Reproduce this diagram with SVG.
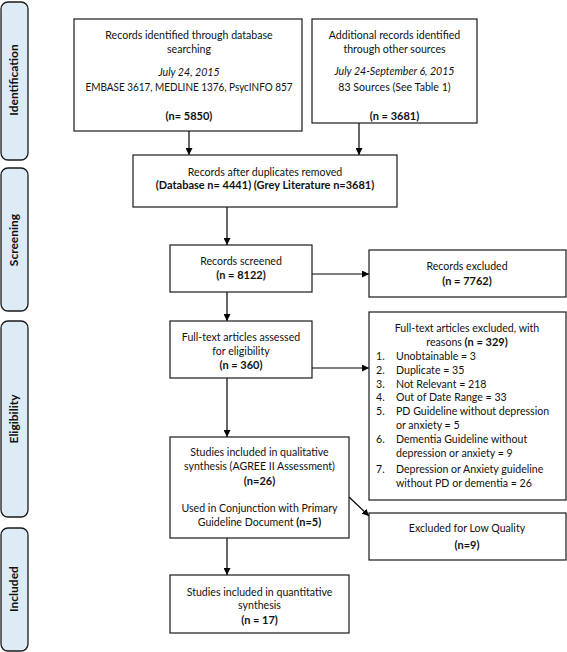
<svg xmlns="http://www.w3.org/2000/svg" width="567" height="652" viewBox="0 0 567 652">
<defs>
<marker id="ah" viewBox="0 0 10 10" refX="10" refY="5" markerWidth="7" markerHeight="7" orient="auto" markerUnits="userSpaceOnUse">
<path d="M0,0 L10,5 L0,10 z" fill="#000"/>
</marker>
</defs>
<style>
.box{fill:#fff;stroke:#1a1a1a;stroke-width:1.2}
.side{fill:#dcebf6;stroke:#1a1a1a;stroke-width:1.3}
.t{font-family:Lato,"Liberation Sans",sans-serif;font-size:10.6px;fill:#111;text-anchor:middle}
.l{text-anchor:start}
.b{font-weight:bold;font-size:11px}
.i{font-style:italic}
.st{font-family:Lato,"Liberation Sans",sans-serif;font-size:12px;font-weight:bold;fill:#111;text-anchor:middle}
.c{stroke:#000;stroke-width:1.2;fill:none;marker-end:url(#ah)}
</style>

<g id="stage-identification">
<rect class="side" x="1" y="2" width="27" height="158" rx="7"/>
<text class="st" transform="translate(18,80) rotate(-90)">Identification</text>
</g>
<g id="stage-screening">
<rect class="side" x="1" y="168" width="27" height="143" rx="7"/>
<text class="st" transform="translate(18,240) rotate(-90)">Screening</text>
</g>
<g id="stage-eligibility">
<rect class="side" x="1" y="321" width="27" height="196" rx="7"/>
<text class="st" transform="translate(18,419) rotate(-90)">Eligibility</text>
</g>
<g id="stage-included">
<rect class="side" x="1" y="528" width="27" height="123" rx="7"/>
<text class="st" transform="translate(18,589) rotate(-90)">Included</text>
</g>

<g id="connectors">
<line class="c" x1="189" y1="131" x2="189" y2="155"/>
<line class="c" x1="359" y1="123" x2="359" y2="155"/>
<line class="c" x1="227" y1="207" x2="227" y2="245"/>
<line class="c" x1="312" y1="274" x2="369" y2="274"/>
<line class="c" x1="227" y1="292" x2="227" y2="321"/>
<line class="c" x1="312" y1="368" x2="369" y2="368"/>
<line class="c" x1="227" y1="378" x2="227" y2="437"/>
<line class="c" x1="349" y1="497" x2="369" y2="516"/>
<line class="c" x1="227" y1="538" x2="227" y2="575"/>
</g>

<g id="db-search">
<rect class="box" x="74" y="19" width="228" height="112"/>
<text class="t" x="189" y="39">Records identified through database</text>
<text class="t" x="189" y="53">searching</text>
<text class="t i" x="189" y="76">July 24, 2015</text>
<text class="t" x="189" y="91" textLength="207" lengthAdjust="spacingAndGlyphs">EMBASE 3617, MEDLINE 1376, PsycINFO 857</text>
<text class="t b" x="189" y="120">(n= 5850)</text>
</g>

<g id="other-sources">
<rect class="box" x="312" y="19" width="165" height="104"/>
<text class="t" x="394.5" y="39">Additional records identified</text>
<text class="t" x="394.5" y="53">through other sources</text>
<text class="t i" x="394.5" y="75">July 24-September 6, 2015</text>
<text class="t" x="394.5" y="91">83 Sources (See Table 1)</text>
<text class="t b" x="394.5" y="120">(n = 3681)</text>
</g>

<g id="deduplicated">
<rect class="box" x="133" y="155" width="264" height="52"/>
<text class="t" x="265" y="176">Records after duplicates removed</text>
<text class="t b" x="265" y="189">(Database n= 4441) (Grey Literature n=3681)</text>
</g>

<g id="screened">
<rect class="box" x="170" y="245" width="142" height="47"/>
<text class="t" x="241" y="265">Records screened</text>
<text class="t b" x="241" y="279">(n = 8122)</text>
</g>

<g id="records-excluded">
<rect class="box" x="369" y="250" width="197" height="47"/>
<text class="t" x="467" y="270">Records excluded</text>
<text class="t b" x="467" y="285">(n = 7762)</text>
</g>

<g id="fulltext-assessed">
<rect class="box" x="170" y="321" width="142" height="57"/>
<text class="t" x="241" y="341">Full-text articles assessed</text>
<text class="t" x="241" y="355">for eligibility</text>
<text class="t b" x="241" y="369">(n = 360)</text>
</g>

<g id="fulltext-excluded">
<rect class="box" x="369" y="312" width="197" height="188"/>
<text class="t" x="467" y="332">Full-text articles excluded, with</text>
<text class="t" x="467" y="346">reasons <tspan class="b">(n = 329)</tspan></text>
<text class="t l" x="376" y="360">1.</text><text class="t l" x="396" y="360">Unobtainable = 3</text>
<text class="t l" x="376" y="374">2.</text><text class="t l" x="396" y="374">Duplicate = 35</text>
<text class="t l" x="376" y="388">3.</text><text class="t l" x="396" y="388">Not Relevant = 218</text>
<text class="t l" x="376" y="401">4.</text><text class="t l" x="396" y="401">Out of Date Range = 33</text>
<text class="t l" x="376" y="415">5.</text><text class="t l" x="396" y="415">PD Guideline without depression</text>
<text class="t l" x="396" y="429">or anxiety = 5</text>
<text class="t l" x="376" y="443">6.</text><text class="t l" x="396" y="443">Dementia Guideline without</text>
<text class="t l" x="396" y="457">depression or anxiety = 9</text>
<text class="t l" x="376" y="473">7.</text><text class="t l" x="396" y="473">Depression or Anxiety guideline</text>
<text class="t l" x="396" y="487">without PD or dementia = 26</text>
</g>

<g id="qualitative">
<rect class="box" x="170" y="437" width="179" height="101"/>
<text class="t" x="259.5" y="456">Studies included in qualitative</text>
<text class="t" x="259.5" y="470">synthesis (AGREE II Assessment)</text>
<text class="t b" x="259.5" y="485">(n=26)</text>
<text class="t" x="259.5" y="512">Used in Conjunction with Primary</text>
<text class="t" x="259.5" y="526">Guideline Document <tspan class="b">(n=5)</tspan></text>
</g>

<g id="low-quality">
<rect class="box" x="369" y="513" width="197" height="47"/>
<text class="t" x="467" y="532">Excluded for Low Quality</text>
<text class="t b" x="467" y="549">(n=9)</text>
</g>

<g id="quantitative">
<rect class="box" x="170" y="575" width="179" height="58"/>
<text class="t" x="259.5" y="596">Studies included in quantitative</text>
<text class="t" x="259.5" y="609">synthesis</text>
<text class="t b" x="259.5" y="624">(n = 17)</text>
</g>
</svg>
